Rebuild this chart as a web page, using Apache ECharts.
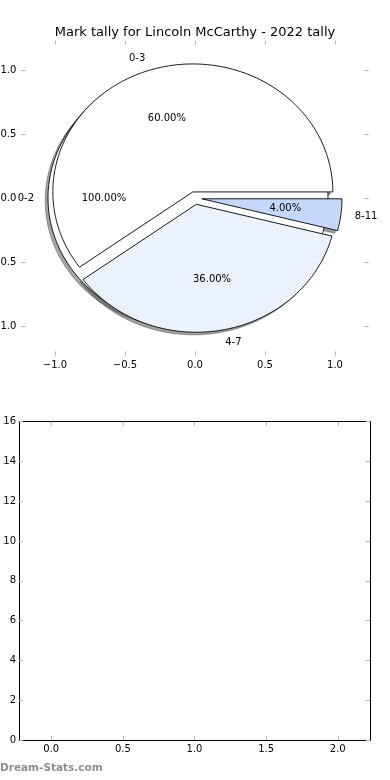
<!DOCTYPE html>
<html><head><meta charset="utf-8">
<script src="https://cdn.jsdelivr.net/npm/echarts@6/dist/echarts.min.js"></script>
<style>html,body{margin:0;padding:0;background:#fff}#c{width:390px;height:780px}</style>
</head><body><div id="c"></div>
<script>
// ---- data ----
const titleText = 'Mark tally for Lincoln McCarthy - 2022 tally';
const outerPieLabels = ['0-2'];
const outerPieValues = [25];
const innerPieLabels = ['0-3', '4-7', '8-11'];
const innerPieValues = [15, 9, 1];
const pieTicks = [-1, -0.5, 0, 0.5, 1];
const lowerXTicks = [0, 0.5, 1, 1.5, 2];
const lowerYTicks = [0, 2, 4, 6, 8, 10, 12, 14, 16];
const watermark = 'Dream-Stats.com';

// ---- styles ----
const outerPieColors = ['#ffffff'];
const innerPieColors = ['#ffffff', '#ebf1fd', '#c5d8fc'];
const FONT = 'DejaVu Sans';
const TICK_COLOR = '#b4b4b4';
const EXPLODE = 0.05, SDX = -0.02, SDY = -0.02;

function buildWedges(labels, values, colors) {
  const total = values.reduce((a, b) => a + b, 0);
  let cum = 0;
  return values.map((v, i) => {
    const t1 = 360 * cum / total, t2 = 360 * (cum + v) / total;
    cum += v;
    const mid = (t1 + t2) / 2 * Math.PI / 180;
    return {
      label: labels[i], pct: (100 * v / total).toFixed(2) + '%',
      t1, t2, mid, full: (t2 - t1) >= 359.9999,
      cx: EXPLODE * Math.cos(mid), cy: EXPLODE * Math.sin(mid),
      color: colors[i % colors.length]
    };
  });
}
const wedges = buildWedges(outerPieLabels, outerPieValues, outerPieColors)
  .concat(buildWedges(innerPieLabels, innerPieValues, innerPieColors));

function shade(hex) {
  const n = parseInt(hex.slice(1), 16);
  const r = Math.round(((n >> 16) & 255) * 0.3), g = Math.round(((n >> 8) & 255) * 0.3), b = Math.round((n & 255) * 0.3);
  return 'rgba(' + r + ',' + g + ',' + b + ',0.5)';
}

function wedgePoints(api, w, dx, dy) {
  const pts = [];
  const ox = w.cx + dx, oy = w.cy + dy;
  if (!w.full) pts.push(api.coord([ox, oy]));
  const n = Math.max(8, Math.ceil((w.t2 - w.t1) / 1));
  for (let k = 0; k <= n; k++) {
    const a = (w.t1 + (w.t2 - w.t1) * k / n) * Math.PI / 180;
    pts.push(api.coord([ox + Math.cos(a), oy + Math.sin(a)]));
  }
  return pts;
}

const seriesData = wedges.map(w => [w.cx, w.cy]);

const fmt1 = v => v.toFixed(1).replace('-', '\u2212');

const tickStyle = { inside: true, length: 4, lineStyle: { color: TICK_COLOR, width: 1 } };
const labelStyle = { fontSize: 10, color: '#000', fontFamily: FONT };

const option = {
  animation: false,
  backgroundColor: '#fff',
  title: {
    text: titleText, left: 'center', top: 21,
    textStyle: { fontSize: 13, fontWeight: 'normal', color: '#000', fontFamily: FONT }
  },
  graphic: [{
    type: 'text', left: 0, top: 763,
    style: { text: watermark, fill: '#8e8e8e', font: 'bold 10.5px "DejaVu Sans"' }
  }],
  grid: [
    { left: 21.4, top: 40.6, width: 347.2, height: 314.8, containLabel: false, outerBoundsMode: 'none' },
    { left: 19, top: 421.7, width: 351, height: 318.3, containLabel: false, outerBoundsMode: 'none' }
  ],
  xAxis: [
    { gridIndex: 0, type: 'value', min: -1.24, max: 1.24, position: 'bottom',
      axisLine: { show: false, onZero: false }, splitLine: { show: false },
      axisTick: Object.assign({ customValues: pieTicks }, tickStyle),
      axisLabel: Object.assign({ customValues: pieTicks, formatter: fmt1, margin: 5 }, labelStyle) },
    { gridIndex: 0, type: 'value', min: -1.24, max: 1.24, position: 'top',
      axisLine: { show: false, onZero: false }, splitLine: { show: false },
      axisTick: Object.assign({ customValues: pieTicks }, tickStyle),
      axisLabel: { show: false } },
    { gridIndex: 1, type: 'value', min: -0.225, max: 2.225, position: 'bottom',
      axisLine: { show: true, onZero: false, lineStyle: { color: '#000', width: 1 } }, splitLine: { show: false },
      axisTick: Object.assign({ customValues: lowerXTicks }, tickStyle),
      axisLabel: Object.assign({ customValues: lowerXTicks, formatter: fmt1, margin: 4 }, labelStyle) },
    { gridIndex: 1, type: 'value', min: -0.225, max: 2.225, position: 'top',
      axisLine: { show: true, onZero: false, lineStyle: { color: '#000', width: 1 } }, splitLine: { show: false },
      axisTick: Object.assign({ customValues: lowerXTicks }, tickStyle),
      axisLabel: { show: false } }
  ],
  yAxis: [
    { gridIndex: 0, type: 'value', min: -1.23, max: 1.23, position: 'left',
      axisLine: { show: false, onZero: false }, splitLine: { show: false },
      axisTick: Object.assign({ customValues: pieTicks }, tickStyle),
      axisLabel: Object.assign({ customValues: pieTicks, formatter: fmt1, margin: 5 }, labelStyle) },
    { gridIndex: 0, type: 'value', min: -1.23, max: 1.23, position: 'right',
      axisLine: { show: false, onZero: false }, splitLine: { show: false },
      axisTick: Object.assign({ customValues: pieTicks }, tickStyle),
      axisLabel: { show: false } },
    { gridIndex: 1, type: 'value', min: 0, max: 16, position: 'left',
      axisLine: { show: true, onZero: false, lineStyle: { color: '#000', width: 1 } }, splitLine: { show: false },
      axisTick: Object.assign({ customValues: lowerYTicks }, tickStyle),
      axisLabel: Object.assign({ customValues: lowerYTicks, formatter: v => String(v), margin: 3 }, labelStyle) },
    { gridIndex: 1, type: 'value', min: 0, max: 16, position: 'right',
      axisLine: { show: true, onZero: false, lineStyle: { color: '#000', width: 1 } }, splitLine: { show: false },
      axisTick: Object.assign({ customValues: lowerYTicks }, tickStyle),
      axisLabel: { show: false } }
  ],
  series: [
    { type: 'custom', xAxisIndex: 0, yAxisIndex: 0, z: 2, clip: false, silent: true,
      data: seriesData,
      renderItem: (params, api) => {
        const w = wedges[params.dataIndex];
        const c = shade(w.color);
        return { type: 'polygon', shape: { points: wedgePoints(api, w, SDX, SDY) },
          style: { fill: c, stroke: c, lineWidth: 1 } };
      } },
    { type: 'custom', xAxisIndex: 0, yAxisIndex: 0, z: 3, clip: false, silent: true,
      data: seriesData,
      renderItem: (params, api) => {
        const w = wedges[params.dataIndex];
        return { type: 'polygon', shape: { points: wedgePoints(api, w, 0, 0) },
          style: { fill: w.color, stroke: '#000', lineWidth: 0.9, lineJoin: 'miter' } };
      } },
    { type: 'custom', xAxisIndex: 0, yAxisIndex: 0, z: 4, clip: false, silent: true,
      data: seriesData,
      renderItem: (params, api) => {
        const w = wedges[params.dataIndex];
        const lx = w.cx + 1.1 * Math.cos(w.mid), ly = w.cy + 1.1 * Math.sin(w.mid);
        const px = w.cx + 0.6 * Math.cos(w.mid), py = w.cy + 0.6 * Math.sin(w.mid);
        const lp = api.coord([lx, ly]), pp = api.coord([px, py]);
        return { type: 'group', children: [
          { type: 'text', x: lp[0], y: lp[1], style: { text: w.label, fill: '#000',
              font: '10px "DejaVu Sans"', align: lx > 0 ? 'left' : 'right', verticalAlign: 'middle' } },
          { type: 'text', x: pp[0], y: pp[1], style: { text: w.pct, fill: '#000',
              font: '10px "DejaVu Sans"', align: 'center', verticalAlign: 'middle' } }
        ] };
      } }
  ]
};

const chart = echarts.init(document.getElementById('c'), null, { renderer: 'canvas' });
chart.setOption(option);
</script>
</body></html>
